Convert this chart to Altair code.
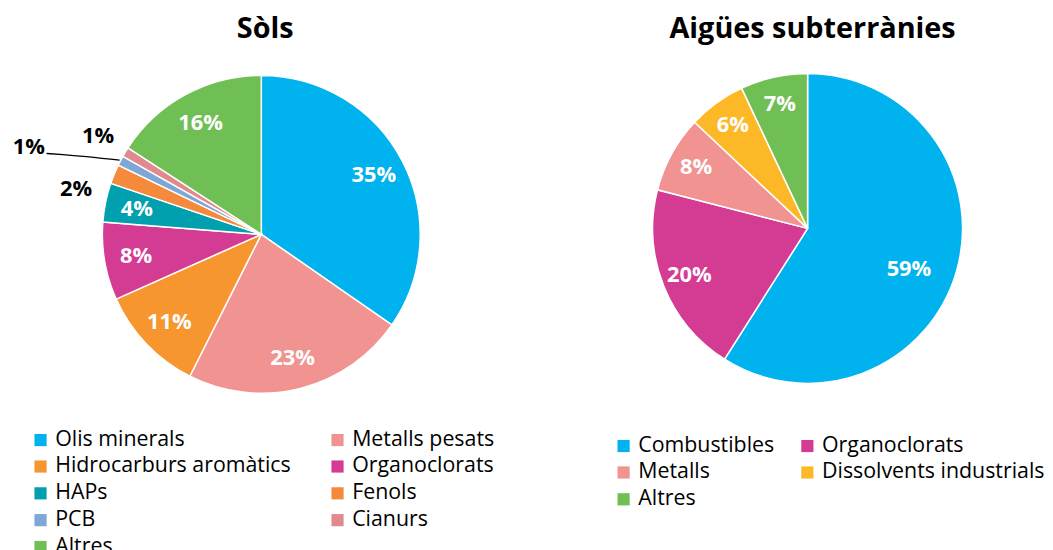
import math
import altair as alt
import pandas as pd

# ---- data ----
sols_cats = ["Olis minerals", "Metalls pesats", "Hidrocarburs aromàtics", "Organoclorats",
             "HAPs", "Fenols", "PCB", "Cianurs", "Altres"]
sols_vals = [35, 23, 11, 8, 4, 2, 1, 1, 16]
sols_colors = ["#00B2EE", "#F19391", "#F7962F", "#D43C94", "#00A0AE",
               "#F58A3C", "#7FA7D5", "#E08A8E", "#70BF55"]

aig_cats = ["Combustibles", "Organoclorats", "Metalls", "Dissolvents industrials", "Altres"]
aig_vals = [59, 20, 8, 6, 7]
aig_colors = ["#00B2EE", "#D43C94", "#F19391", "#FDB827", "#70BF55"]

FONT = "Open Sans"

# layout
W1, H1, R1 = 510, 364, 160
W2, H2, R2 = 440, 352, 156


def frame(cats, vals):
    df = pd.DataFrame({"cat": cats, "val": vals, "idx": list(range(len(cats)))})
    df["lab"] = [f"{v}%" for v in vals]
    return df


def row_major(cats, ncol=2):
    """Vega fills legend columns top-down; reorder so it reads row by row."""
    out = []
    for i in range(ncol):
        out.extend(cats[i::ncol])
    return out


def legend(x, y, colpad):
    return alt.Legend(orient="none", legendX=x, legendY=y, columns=2, title=None,
                      symbolType="square", symbolSize=150, symbolStrokeWidth=0,
                      labelFont=FONT, labelFontSize=21.5, labelColor="black",
                      labelOffset=4, rowPadding=4, columnPadding=colpad,
                      labelLimit=500)


def title(t, dx):
    return alt.TitleParams(t, font=FONT, fontSize=29, fontWeight="bold",
                           color="black", anchor="middle", offset=10, dx=dx)


TEXT_STYLE = dict(font=FONT, fontSize=22, fontWeight="bold", align="center", baseline="middle")


def pie(cats, vals, colors, R, legend_xy, colpad, inner_labels, outside=None, leader_for=None,
        W=500, H=360):
    df = frame(cats, vals)
    total = sum(vals)
    dom = row_major(cats)
    tscale = alt.Scale(domain=[0, total])
    base = alt.Chart(df).encode(
        theta=alt.Theta("val:Q", stack=True, scale=tscale),
        order=alt.Order("idx:Q", sort="ascending"),
    )
    layers = [base.mark_arc(radius=R, stroke="white", strokeWidth=1.5).encode(
        color=alt.Color("cat:N", sort=dom,
                        scale=alt.Scale(domain=dom, range=[colors[cats.index(c)] for c in dom]),
                        legend=legend(legend_xy[0], legend_xy[1], colpad)),
    )]
    # labels inside the slices (stacked -> placed at mid angle)
    for field, rad, off, test in inner_labels:
        df[field] = [l if test(v) else "" for l, v in zip(df["lab"], df["val"])]
        layers.append(base.mark_text(color="white", radius=rad, thetaOffset=off, **TEXT_STYLE)
                      .encode(text=f"{field}:N"))
    # outside labels for the thin slices
    mid_base = alt.Chart(df).transform_window(
        cum="sum(val)", sort=[alt.SortField("idx", order="ascending")], frame=[None, 0]
    ).transform_calculate(mid="datum.cum - datum.val / 2")
    for c, (off, rad) in (outside or {}).items():
        layers.append(
            mid_base.transform_filter(alt.datum.cat == c)
            .mark_text(color="black", radius=rad, thetaOffset=off, **TEXT_STYLE)
            .encode(theta=alt.Theta("mid:Q", scale=tscale), text="lab:N")
        )
    if leader_for:
        c, pts_spec = leader_for
        i = cats.index(c)
        mid = (sum(vals[:i]) + vals[i] / 2) / total * 2 * math.pi
        pts = [(mid + da, r) for da, r in pts_spec]
        line_df = pd.DataFrame({
            "o": list(range(len(pts))),
            "x": [W / 2 + r * math.sin(a) for a, r in pts],
            "y": [H / 2 - r * math.cos(a) for a, r in pts],
        })
        layers.append(alt.Chart(line_df).mark_line(color="black", strokeWidth=1.3,
                                                   interpolate="monotone").encode(
            x=alt.X("x:Q", scale=None, axis=None),
            y=alt.Y("y:Q", scale=None, axis=None),
            order="o:Q",
        ))
    return alt.layer(*layers)


left = pie(
    sols_cats, sols_vals, sols_colors, R1, (22, 378), 36,
    inner_labels=[("lab_in", 128, 0.0, lambda v: v >= 3)],
    outside={"Fenols": (-0.15, 192), "PCB": (-0.122, 250), "Cianurs": (0.0, 192)},
    leader_for=("PCB", [(0.0, R1 + 1), (-0.1, 215), (-0.122, 231)]),
    W=W1, H=H1,
).properties(width=W1, height=H1, title=title("Sòls", 4))

right = pie(
    aig_cats, aig_vals, aig_colors, R2, (24, 384), 22,
    inner_labels=[("lab_big", 110, 0.1, lambda v: v >= 50),
                  ("lab_rest", 128, 0.0, lambda v: v < 50)],
    W=W2, H=H2,
).properties(width=W2, height=H2, title=title("Aigües subterrànies", 5))

chart = alt.hconcat(left, right, spacing=75).resolve_scale(
    color="independent", theta="independent"
).properties(padding={"top": 5, "left": 0, "right": 0, "bottom": 0},
             background="white").configure_view(strokeWidth=0)

chart.save("out.html", embed_options={"renderer": "svg", "actions": False})
